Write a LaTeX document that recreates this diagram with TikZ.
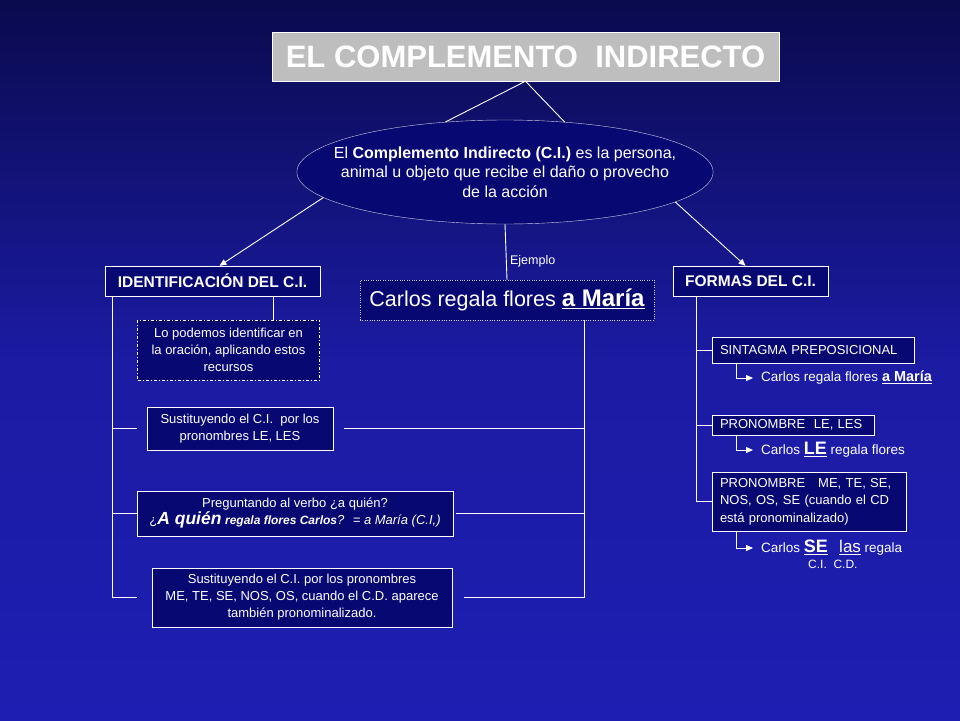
\documentclass[tikz,border=0pt]{standalone}
\usepackage{fontspec}
\setmainfont{Liberation Sans}
\usepackage{tikz}
\usetikzlibrary{shapes.geometric, arrows, arrows.meta}
\definecolor{fondo}{RGB}{10,10,78}
\definecolor{fondoclaro}{RGB}{30,30,178}
\definecolor{azul}{RGB}{8,8,115}
\definecolor{gris}{RGB}{190,190,190}
\definecolor{borde}{RGB}{205,205,230}
\tikzstyle{titulo} = [rectangle, 
minimum width=507pt, 
minimum height=49pt, 
draw=white, fill=gris, text=white, 
font=\fontsize{31}{36}\selectfont\bfseries]
\tikzstyle{definicion} = [ellipse, 
minimum width=416pt, 
minimum height=104pt, 
inner xsep=-24pt, inner ysep=0pt, 
align=center, 
draw=borde, fill=azul, text=white, 
font=\fontsize{16}{19.5}\selectfont]
\tikzstyle{cabecera} = [rectangle, 
minimum height=30pt, 
draw=white, fill=azul, text=white, 
font=\fontsize{15.5}{17}\selectfont\bfseries]
\tikzstyle{recurso} = [rectangle, 
inner sep=2pt, 
align=center, 
draw=white, fill=azul, text=white, 
font=\fontsize{13}{17}\selectfont]
\tikzstyle{forma} = [rectangle, 
inner xsep=8pt, 
align=left, 
draw=white, fill=azul, text=white, 
font=\fontsize{13}{17.5}\selectfont]
\tikzstyle{ejemplo} = [anchor=west, inner sep=2pt, text=white, 
font=\fontsize{13.5}{15}\selectfont]
\tikzstyle{rama} = [draw=white, line width=0.9pt]
\tikzstyle{flecha} = [rama, ->, >={Triangle[length=7pt, width=6pt]}]

\begin{document}
\begin{tikzpicture}[x=1pt, y=-1pt]
\useasboundingbox (0,0) rectangle (960,720);
\shade[top color=fondo, bottom color=fondoclaro, middle color=fondoclaro!85!fondo] (0,0) rectangle (960,720);

\node (titulo) [titulo] at (525.5,56.5) {EL COMPLEMENTO\ \ INDIRECTO};
\node (defi) [definicion] at (505,172) {El \textbf{Complemento Indirecto (C.I.)} es la persona,\\ animal u objeto que recibe el daño o provecho\\ de la acción};
\node (ident) [cabecera, minimum width=215pt] at (212.5,281) {IDENTIFICACIÓN DEL C.I.};
\node (formas) [cabecera, minimum width=155pt] at (750.5,281) {FORMAS DEL C.I.};
\node (carlos) [recurso, minimum width=294pt, minimum height=40pt, draw=borde, dotted, font=\fontsize{21.5}{23}\selectfont] at (507,300) {Carlos regala flores {\fontsize{24}{25}\selectfont\bfseries\underline{a María}}};

% recursos de identificacion
\node (lo) [recurso, minimum width=182pt, minimum height=60pt, dash pattern=on 3pt off 2pt on 1pt off 2pt, line width=0.6pt] at (228.5,350) {Lo podemos identificar en\\ la oración, aplicando estos\\ recursos};
\node (sust1) [recurso, minimum width=186pt, minimum height=43pt] at (240,428.5) {Sustituyendo el C.I.\ \ por los\\ pronombres LE, LES};
\node (preg) [recurso, minimum width=316pt, minimum height=45pt] at (295,513.5) {Preguntando al verbo ¿a quién?\\ ¿{\fontsize{17.5}{18}\selectfont\bfseries\itshape A quién} {\fontsize{12}{13}\selectfont\bfseries\itshape regala flores Carlos}\textit{? \ = a María (C.I,)}};
\node (sust2) [recurso, minimum width=300pt, minimum height=59pt] at (302,597.5) {Sustituyendo el C.I. por los pronombres\\ ME, TE,\ SE, NOS, OS, cuando el C.D. aparece\\ también pronominalizado.};

% formas
\node (sintagma) [forma, text width=186pt, minimum height=26pt] at (813,350) {SINTAGMA\ PREPOSICIONAL};
\node (pron1) [forma, text width=146pt, minimum height=20pt, inner ysep=1pt] at (793,425) {PRONOMBRE\ \ LE, LES};
\node (pron2) [forma, text width=178pt, minimum height=59pt, inner ysep=2pt] at (809,501.5) {PRONOMBRE\ \ \ ME, TE, SE,\\ NOS, OS, SE (cuando el CD\\ está\ pronominalizado)};
\node (ej1) [ejemplo] at (759,378) {Carlos regala\ flores {\fontsize{14.5}{15}\selectfont\bfseries\underline{a María}}};
\node (ej2) [ejemplo] at (759,450) {Carlos {\fontsize{18}{19}\selectfont\bfseries\underline{LE}} regala\ flores};
\node (ej3) [ejemplo] at (759,548) {Carlos {\fontsize{18}{19}\selectfont\bfseries\underline{SE}}\ \ \ {\fontsize{17}{18}\selectfont\underline{las}} regala};
\node (cicd) [ejemplo, font=\fontsize{12}{13}\selectfont] at (806,564) {C.I.\ \ C.D.};

\draw [rama] (defi.140) -- (titulo.south) -- (defi.40);
\draw [flecha] (defi.188) -- ([xshift=7pt]ident.north);
\draw [flecha] (defi.350) -- ([xshift=-5pt]formas.north);
\draw [rama] (defi.south) -- node[pos=0.66, right, text=white, font=\fontsize{12.5}{13}\selectfont] {Ejemplo} (carlos.north);

\draw [rama] ([xshift=8pt]ident.south west) coordinate (izq) -- (izq |- sust2.west);
\draw [rama] ([xshift=-46pt]lo.north east) -- ([xshift=-46pt]lo.north east |- ident.south);
\draw [rama, shorten >=10pt] (izq |- sust1.west) -- (sust1.west);
\draw [rama] (izq |- preg.west) -- (preg.west);
\draw [rama, shorten >=15pt] (izq |- sust2.west) -- (sust2.west);

\draw [rama] ([xshift=-70pt]carlos.south east) coordinate (der) -- (der |- sust2.east);
\draw [rama, shorten >=11pt] (der |- sust1.east) -- (sust1.east);
\draw [rama, shorten >=3pt] (der |- preg.east) -- (preg.east);
\draw [rama, shorten >=12pt] (der |- sust2.east) -- (sust2.east);

\draw [rama] ([xshift=24pt]formas.south west) coordinate (frm) -- (frm |- pron2.west);
\draw [rama] (frm |- sintagma.west) -- (sintagma.west);
\draw [rama] (frm |- pron1.west) -- (pron1.west);
\draw [rama] (frm |- pron2.west) -- (pron2.west);
\draw [flecha, shorten >=6pt] ([xshift=25pt]sintagma.south west) |- (ej1.west);
\draw [flecha, shorten >=6pt] ([xshift=25pt]pron1.south west) |- (ej2.west);
\draw [flecha, shorten >=6pt] ([xshift=25pt]pron2.south west) |- (ej3.west);

\end{tikzpicture}
\end{document}
